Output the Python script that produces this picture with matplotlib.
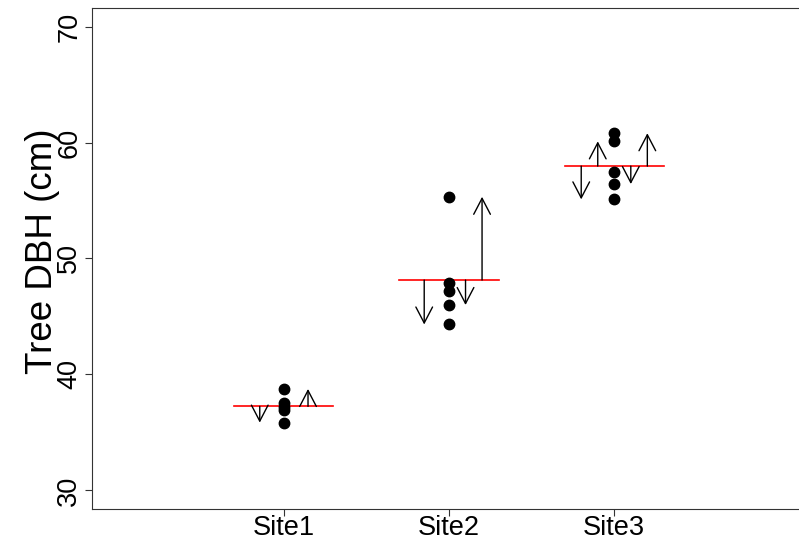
import matplotlib
matplotlib.use("Agg")
import matplotlib.pyplot as plt
import numpy as np

# ---- data ----
sites = ["Site1", "Site2", "Site3"]
site1_dbh = [38.75, 37.5, 37.2, 36.95, 35.85]
site2_dbh = [55.32, 47.89, 47.2, 45.99, 44.31]
site3_dbh = [60.8, 60.1, 57.42, 56.42, 55.1]
all_dbh = [site1_dbh, site2_dbh, site3_dbh]

# residual arrows: site index, point index within site, horizontal offset
arrow_site = [0, 0, 1, 1, 1, 2, 2, 2, 2]
arrow_point = [4, 0, 4, 3, 0, 4, 1, 3, 0]
arrow_offset = [-0.145, 0.147, -0.15, 0.10, 0.20, -0.20, -0.10, 0.10, 0.20]

y_ticks = [30, 40, 50, 60, 70]

plt.rcParams['font.family'] = ['Liberation Sans', 'DejaVu Sans']

W, H = 799, 539
fig = plt.figure(figsize=(W / 100, H / 100), dpi=100)
left, right, top, bottom = 92, 806, 8, 509
ax = fig.add_axes([left / W, (H - bottom) / H, (right - left) / W, (bottom - top) / H])

xpos = np.arange(1, len(sites) + 1)
means = [np.mean(v) for v in all_dbh]

# mean lines
for x, m in zip(xpos, means):
    ax.plot([x - 0.3, x + 0.3], [m, m], color='red', lw=1.2, zorder=2)

# arrows
for s, p, off in zip(arrow_site, arrow_point, arrow_offset):
    x = xpos[s] + off
    ax.annotate('', xy=(x, all_dbh[s][p]), xytext=(x, means[s]),
                arrowprops=dict(arrowstyle='->,head_length=11.5,head_width=6.0',
                                mutation_scale=1, lw=1.0, color='black',
                                shrinkA=0, shrinkB=0), zorder=3)

# points
for x, v in zip(xpos, all_dbh):
    ax.plot([x] * len(v), v, 'o', color='black', ms=7.5, zorder=4)

ax.set_xlim(-0.16, 4.16)
ax.set_ylim(28.4, 71.6)
ax.set_xticks(xpos)
ax.set_xticklabels(sites, fontsize=19.5)
ax.set_yticks(y_ticks)
ax.set_yticklabels([str(t) for t in y_ticks], fontsize=19.5, rotation=90, va='center')
ax.tick_params(axis='both', direction='out', length=5, width=0.8, color='#333333')
ax.tick_params(axis='x', pad=-1)
ax.tick_params(axis='y', pad=2)
ax.set_ylabel("Tree DBH (cm)", fontsize=26.5, labelpad=-3)
ax.yaxis.label.set_y(0.515)
for sp in ax.spines.values():
    sp.set_color('#333333')
    sp.set_linewidth(0.8)

fig.savefig("out.png", dpi=100)
